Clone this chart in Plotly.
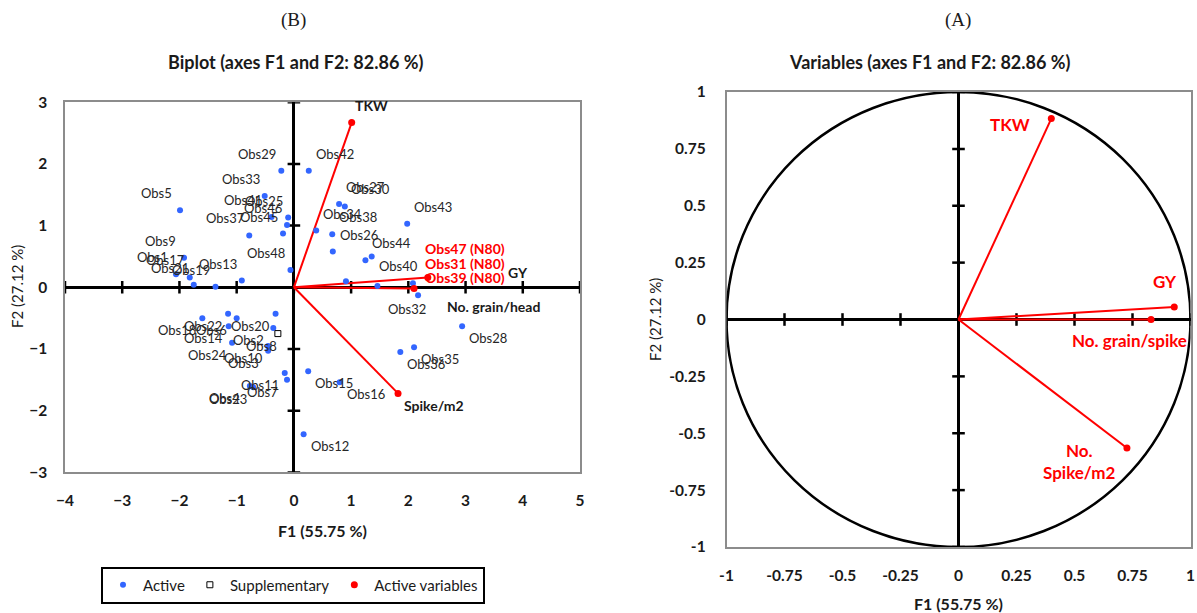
import plotly.graph_objects as go

# ---------------- data ----------------
obs_names = ["Obs29", "Obs42", "Obs5", "Obs33", "Obs41", "Obs25", "Obs46", "Obs37", "Obs45", "Obs48",
             "Obs9", "Obs1", "Obs17", "Obs21", "Obs19", "Obs13",
             "Obs34", "Obs27", "Obs30", "Obs43", "Obs38", "Obs26", "Obs44", "Obs47", "Obs31", "Obs40", "Obs39",
             "Obs32", "Obs28", "Obs35", "Obs36", "Obs15", "Obs16", "Obs12",
             "Obs18", "Obs22", "Obs6", "Obs20", "Obs2", "Obs14", "Obs24", "Obs10", "Obs3", "Obs11", "Obs7",
             "Obs4", "Obs23"]
obs_f1 = [-0.22, 0.26, -1.99, -0.51, -0.39, -0.10, -0.12, -0.78, -0.19, -0.06,
          -1.92, -2.06, -1.82, -1.75, -1.37, -0.91,
          0.39, 0.79, 0.89, 1.98, 0.67, 0.68, 1.25, 1.36, 0.91, 1.46, 2.08,
          2.17, 2.94, 2.10, 1.86, 0.25, 0.80, 0.17,
          -1.60, -1.15, -1.00, -0.32, -0.36, -1.14, -1.08, -0.45, -0.45, -0.16, -0.12,
          -0.77, -0.71]
obs_f2 = [1.89, 1.89, 1.25, 1.48, 1.14, 1.13, 1.01, 0.84, 0.87, 0.28,
          0.48, 0.21, 0.16, 0.04, 0.01, 0.11,
          0.92, 1.35, 1.31, 1.03, 0.86, 0.58, 0.44, 0.50, 0.10, 0.02, 0.065,
          -0.13, -0.63, -0.97, -1.05, -1.36, -1.54, -2.38,
          -0.50, -0.43, -0.50, -0.43, -0.66, -0.63, -0.90, -0.95, -1.03, -1.39, -1.50,
          -1.60, -1.62]

supp_names = ["Obs8"]
supp_f1 = [-0.28]
supp_f2 = [-0.75]

var_names = ["TKW", "GY", "No. grain/head", "Spike/m2"]
var_f1 = [1.01, 2.34, 2.10, 1.82]
var_f2 = [2.67, 0.16, -0.02, -1.72]

circ_names = ["TKW", "GY", "No. grain/spike", "No.<br>Spike/m2"]
circ_f1 = [0.40, 0.93, 0.83, 0.726]
circ_f2 = [0.883, 0.055, 0.0, -0.565]

highlight = {"Obs47": "Obs47 (N80)", "Obs31": "Obs31 (N80)", "Obs39": "Obs39 (N80)"}

left_xticks = [-4, -3, -2, -1, 0, 1, 2, 3, 4, 5]
left_yticks = [-3, -2, -1, 0, 1, 2, 3]
right_ticks = [-1, -0.75, -0.5, -0.25, 0, 0.25, 0.5, 0.75, 1]
right_ticklabels = ["-1", "-0.75", "-0.5", "-0.25", "0", "0.25", "0.5", "0.75", "1"]

# ---------------- styles ----------------
FONT = "Lato"
BLUE = "#3366FF"
RED = "#FF0000"
TL, TR, BR, BL = (-24, -17), (26, -17), (26, 12), (-25, 12)
label_off = {n: TL for n in obs_names}
label_off.update({"Obs42": TR, "Obs41": (-29, -17)})
for n in ["Obs34", "Obs27", "Obs30", "Obs43", "Obs38", "Obs26", "Obs44"]:
    label_off[n] = TR
label_off["Obs40"] = (21, -20)
for n in ["Obs28", "Obs35", "Obs36", "Obs15", "Obs16", "Obs12"]:
    label_off[n] = BR
label_off["Obs32"] = (-11, 14)
for n in ["Obs18", "Obs22", "Obs6", "Obs20", "Obs2", "Obs14", "Obs24", "Obs10", "Obs3", "Obs11", "Obs7",
          "Obs4", "Obs23"]:
    label_off[n] = BL
label_off["Obs8"] = (-16, 12)
hl_off = {"Obs47": (51, -8), "Obs31": (77, -18), "Obs39": (10, -6)}
var_off = {"TKW": (20, -17), "GY": (90, -5), "No. grain/head": (79, 18), "Spike/m2": (36, 12)}
circ_off = {"TKW": (-41, 6), "GY": (-9, -25), "No. grain/spike": (-22, 21), "No.<br>Spike/m2": (-47, 13)}

fig = go.Figure()

tick_marker_v = dict(symbol="line-ns-open", size=9, color="black", line=dict(color="black", width=2.5))
tick_marker_h = dict(symbol="line-ew-open", size=9, color="black", line=dict(color="black", width=2.5))

# tick crosses on the central axes (left)
fig.add_trace(go.Scatter(x=left_xticks, y=[0] * len(left_xticks), mode="markers", showlegend=False,
                         hoverinfo="skip", xaxis="x", yaxis="y", marker=tick_marker_v))
fig.add_trace(go.Scatter(x=[0] * len(left_yticks), y=left_yticks, mode="markers", showlegend=False,
                         hoverinfo="skip", xaxis="x", yaxis="y", marker=tick_marker_h))
# right
fig.add_trace(go.Scatter(x=right_ticks, y=[0] * len(right_ticks), mode="markers", showlegend=False,
                         hoverinfo="skip", xaxis="x2", yaxis="y2", marker=tick_marker_v))
fig.add_trace(go.Scatter(x=[0] * len(right_ticks), y=right_ticks, mode="markers", showlegend=False,
                         hoverinfo="skip", xaxis="x2", yaxis="y2", marker=tick_marker_h))

# variable vectors (left)
for vx, vy in zip(var_f1, var_f2):
    fig.add_trace(go.Scatter(x=[0, vx], y=[0, vy], mode="lines", showlegend=False, hoverinfo="skip",
                             line=dict(color=RED, width=2), xaxis="x", yaxis="y"))
# observations
fig.add_trace(go.Scatter(x=obs_f1, y=obs_f2, mode="markers", name="Active", text=obs_names,
                         marker=dict(color=BLUE, size=6), xaxis="x", yaxis="y"))
fig.add_trace(go.Scatter(x=supp_f1, y=supp_f2, mode="markers", name="Supplementary", text=supp_names,
                         marker=dict(symbol="square-open", color="black", size=6, line=dict(width=1)),
                         xaxis="x", yaxis="y"))
fig.add_trace(go.Scatter(x=var_f1, y=var_f2, mode="markers", name="Active variables", text=var_names,
                         marker=dict(color=RED, size=7), xaxis="x", yaxis="y"))

# right panel vectors
for vx, vy in zip(circ_f1, circ_f2):
    fig.add_trace(go.Scatter(x=[0, vx], y=[0, vy], mode="lines", showlegend=False, hoverinfo="skip",
                             line=dict(color=RED, width=2), xaxis="x2", yaxis="y2"))
fig.add_trace(go.Scatter(x=circ_f1, y=circ_f2, mode="markers", showlegend=False, text=circ_names,
                         marker=dict(color=RED, size=7), xaxis="x2", yaxis="y2"))

ann = []
for n, x, y in zip(obs_names, obs_f1, obs_f2):
    if n in highlight:
        dx, dy = hl_off[n]
        ann.append(dict(x=x, y=y, xref="x", yref="y", text="<b>%s</b>" % highlight[n], showarrow=False,
                        xanchor="left", yanchor="middle", xshift=dx, yshift=-dy,
                        font=dict(family=FONT, size=14, color=RED)))
    else:
        dx, dy = label_off[n]
        ann.append(dict(x=x, y=y, xref="x", yref="y", text=n, showarrow=False, xshift=dx, yshift=-dy,
                        xanchor="center", yanchor="middle",
                        font=dict(family=FONT, size=13, color="#262626")))
for n, x, y in zip(supp_names, supp_f1, supp_f2):
    dx, dy = label_off[n]
    ann.append(dict(x=x, y=y, xref="x", yref="y", text=n, showarrow=False, xshift=dx, yshift=-dy,
                    xanchor="center", yanchor="middle",
                    font=dict(family=FONT, size=13, color="#262626")))
for n, x, y in zip(var_names, var_f1, var_f2):
    dx, dy = var_off[n]
    ann.append(dict(x=x, y=y, xref="x", yref="y", text="<b>%s</b>" % n, showarrow=False, xshift=dx,
                    yshift=-dy, xanchor="center", yanchor="middle",
                    font=dict(family=FONT, size=14, color="#1a1a1a")))
for n, x, y in zip(circ_names, circ_f1, circ_f2):
    dx, dy = circ_off[n]
    ann.append(dict(x=x, y=y, xref="x2", yref="y2", text="<b>%s</b>" % n, showarrow=False, xshift=dx,
                    yshift=-dy, xanchor="center", yanchor="middle",
                    font=dict(family=FONT, size=17, color=RED)))

W, H = 1197, 613
def px(x):
    return x / W
def py(y):
    return 1 - y / H

def paper_text(x, y, text, size, family=FONT, angle=0):
    return dict(x=px(x), y=py(y), xref="paper", yref="paper", text=text, showarrow=False,
                xanchor="center", yanchor="middle", textangle=angle,
                font=dict(family=family, size=size, color="#1a1a1a"))

ann += [
    paper_text(293, 20, "(B)", 19, family="Liberation Serif"),
    paper_text(958, 20, "(A)", 19, family="Liberation Serif"),
    paper_text(295, 62, "<b>Biplot (axes F1 and F2: 82.86 %)</b>", 18),
    paper_text(930, 62, "<b>Variables (axes F1 and F2: 82.86 %)</b>", 18),
    paper_text(322, 530, "<b>F1 (55.75 %)</b>", 16),
    paper_text(958, 603, "<b>F1 (55.75 %)</b>", 16),
    paper_text(17, 287, "F2 (27.12 %)", 15, angle=-90),
    paper_text(655, 320, "F2 (27.12 %)", 15, angle=-90),
]

axis_common = dict(showgrid=False, zeroline=True, zerolinecolor="black", zerolinewidth=3,
                   showline=True, mirror=True, linecolor="#8c8c8c", linewidth=1.5, ticks="",
                   automargin=False,
                   tickfont=dict(family=FONT, size=15.5, color="#1a1a1a", weight="bold"), fixedrange=True)

fig.update_layout(
    template="none",
    width=W, height=H, margin=dict(l=0, r=0, t=0, b=0, pad=0), autosize=False,
    paper_bgcolor="white", plot_bgcolor="white",
    xaxis=dict(domain=[px(65), px(580)], range=[-4, 5], tickvals=left_xticks, ticklabelstandoff=13,
               anchor="y", **axis_common),
    yaxis=dict(domain=[py(472.4), py(102.2)], range=[-3, 3], tickvals=left_yticks, ticklabelstandoff=13,
               anchor="x", **axis_common),
    xaxis2=dict(domain=[px(726.5), px(1190.5)], range=[-1, 1], tickvals=right_ticks, ticktext=right_ticklabels,
                ticklabelstandoff=14, anchor="y2", **axis_common),
    yaxis2=dict(domain=[py(547), py(92)], range=[-1, 1], tickvals=right_ticks, ticktext=right_ticklabels,
                ticklabelstandoff=16, anchor="x2", **axis_common),
    shapes=[dict(type="circle", xref="x2", yref="y2", x0=-1, y0=-1, x1=1, y1=1,
                 line=dict(color="black", width=2.5), layer="above")],
    annotations=ann,
    legend=dict(orientation="h", x=px(293), y=py(585), xanchor="center", yanchor="middle",
                bordercolor="black", borderwidth=2, bgcolor="white",
                font=dict(family=FONT, size=15, color="#1a1a1a")),
    showlegend=True,
)

fig.write_html("out.html", config={"displayModeBar": False, "responsive": False},
               post_script="document.body.style.margin='0px';")
